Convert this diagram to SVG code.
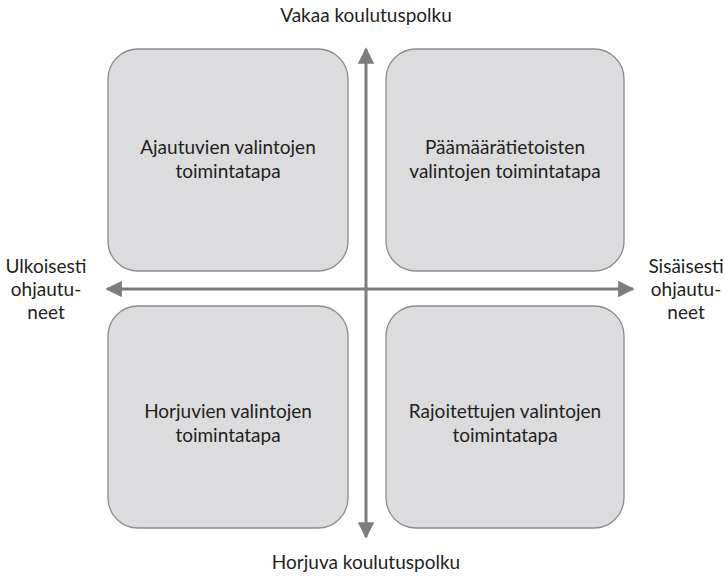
<svg xmlns="http://www.w3.org/2000/svg" width="725" height="578" viewBox="0 0 725 578">
<style>
.box{fill:#dcdcde;stroke:#8c8c8e;stroke-width:1.3}
.t{font-family:Lato,"Open Sans","Liberation Sans",sans-serif;font-size:19px;fill:#231f20;text-anchor:middle}
.ax{stroke:#7d7d80;stroke-width:3;fill:none}
</style>
<defs>
<marker id="ah" viewBox="0 0 10 10" refX="9" refY="5" markerWidth="5.5" markerHeight="5.5" orient="auto-start-reverse" markerUnits="strokeWidth">
<path d="M0,0 L10,5 L0,10 z" fill="#7d7d80"/>
</marker>
</defs>
<rect width="725" height="578" fill="#fff"/>
<g id="q1"><rect class="box" x="108" y="49" width="240" height="222" rx="30"/>
<text class="t" x="228" y="154">Ajautuvien valintojen</text><text class="t" x="228" y="178">toimintatapa</text></g>
<g id="q2"><rect class="box" x="386" y="49" width="238" height="222" rx="30"/>
<text class="t" x="505" y="154">Päämäärätietoisten</text><text class="t" x="505" y="178">valintojen toimintatapa</text></g>
<g id="q3"><rect class="box" x="108" y="306" width="240" height="222" rx="30"/>
<text class="t" x="228" y="418">Horjuvien valintojen</text><text class="t" x="228" y="442">toimintatapa</text></g>
<g id="q4"><rect class="box" x="386" y="306" width="238" height="222" rx="30"/>
<text class="t" x="505" y="418">Rajoitettujen valintojen</text><text class="t" x="505" y="442">toimintatapa</text></g>
<g id="connectors">
<line class="ax" x1="366" y1="49" x2="366" y2="537" marker-start="url(#ah)" marker-end="url(#ah)"/>
<line class="ax" x1="107" y1="289" x2="633" y2="289" marker-start="url(#ah)" marker-end="url(#ah)"/>
</g>
<g id="top"><text class="t" x="366" y="22">Vakaa koulutuspolku</text></g>
<g id="bottom"><text class="t" x="366" y="569">Horjuva koulutuspolku</text></g>
<g id="left"><text class="t" x="46" y="273">Ulkoisesti</text><text class="t" x="46" y="296">ohjautu-</text><text class="t" x="46" y="319">neet</text></g>
<g id="right"><text class="t" x="686" y="273">Sisäisesti</text><text class="t" x="686" y="296">ohjautu-</text><text class="t" x="686" y="319">neet</text></g>
</svg>
